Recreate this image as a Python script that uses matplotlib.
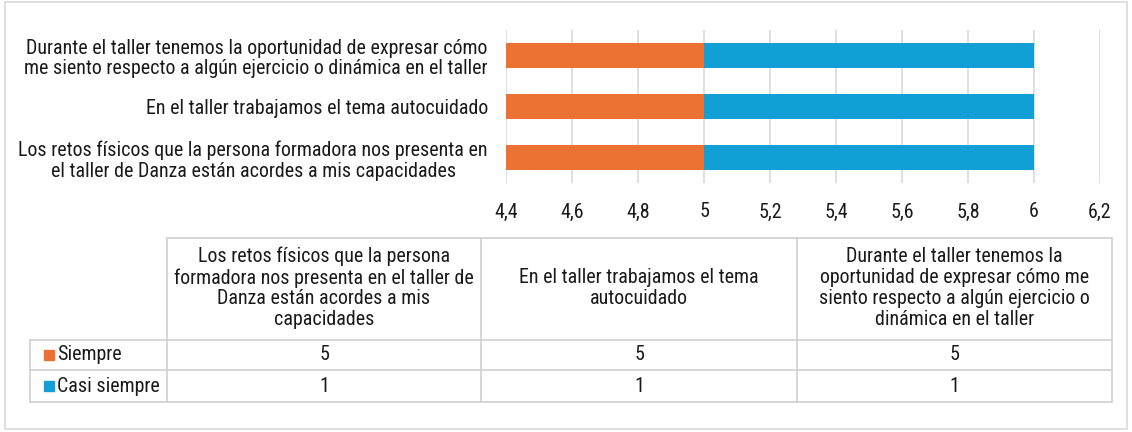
import matplotlib
matplotlib.use("Agg")
import matplotlib.pyplot as plt
from matplotlib.patches import Rectangle
from matplotlib import font_manager as fm

avail = set(f.name for f in fm.fontManager.ttflist)
fams = [f for f in ['Arial Narrow', 'Liberation Sans Narrow', 'Roboto Condensed', 'Archivo Narrow'] if f in avail]
plt.rcParams['font.family'] = fams + ['DejaVu Sans']

categories = [
    "Los retos físicos que la persona formadora nos presenta en\nel taller de Danza están acordes a mis capacidades",
    "En el taller trabajamos el tema autocuidado",
    "Durante el taller tenemos la oportunidad de expresar cómo\nme siento respecto a algún ejercicio o dinámica en el taller",
]
table_headers = [
    "Los retos físicos que la persona\nformadora nos presenta en el taller de\nDanza están acordes a mis\ncapacidades",
    "En el taller trabajamos el tema\nautocuidado",
    "Durante el taller tenemos la\noportunidad de expresar cómo me\nsiento respecto a algún ejercicio o\ndinámica en el taller",
]
series_names = ["Siempre", "Casi siempre"]
siempre = [5, 5, 5]
casi_siempre = [1, 1, 1]
xticks = [4.4, 4.6, 4.8, 5.0, 5.2, 5.4, 5.6, 5.8, 6.0, 6.2]
colors = ["#EB7233", "#119FD6"]

FS = 14.4
TC = "#1a1a1a"
W, H = 1132, 432
fig = plt.figure(figsize=(W / 100, H / 100), dpi=100)
fig.patch.set_facecolor("white")

bg = fig.add_axes([0, 0, 1, 1])
bg.set_xlim(0, W)
bg.set_ylim(H, 0)
bg.axis("off")
bg.add_patch(Rectangle((5, 2), W - 10, H - 5, fill=False, edgecolor="#D9D9D9", lw=1.2))

ax = fig.add_axes([506 / W, 1 - 183 / H, (1100 - 506) / W, (183 - 30) / H])
ypos = list(range(len(categories)))
ax.barh(ypos, siempre, height=0.5, color=colors[0], zorder=3)
ax.barh(ypos, casi_siempre, left=siempre, height=0.5, color=colors[1], zorder=3)
ax.set_xlim(4.4, 6.2)
ax.set_ylim(-0.5, 2.5)
ax.set_xticks(xticks)
ax.set_xticklabels([("%g" % v).replace(".", ",") for v in xticks], fontsize=FS, color=TC)
ax.set_yticks(ypos)
ax.set_yticklabels(categories, fontsize=FS, color=TC, ha="right", multialignment="center", linespacing=1.12)
ax.tick_params(axis="both", length=0)
ax.tick_params(axis="x", pad=14)
ax.tick_params(axis="y", pad=13)
ax.xaxis.grid(True, color="#D9D9D9", lw=1.2, zorder=0)
for s in ax.spines.values():
    s.set_visible(False)

tx = [167, 481, 797, 1112]
lx = 30
ty = [238, 340, 370, 402]
lc = "#D0D0D0"
bg.plot([tx[0], tx[-1]], [ty[0], ty[0]], color=lc, lw=1.2)
for y in ty[1:]:
    bg.plot([lx, tx[-1]], [y, y], color=lc, lw=1.2)
for x in tx:
    bg.plot([x, x], [ty[0], ty[-1]], color=lc, lw=1.2)
bg.plot([lx, lx], [ty[1], ty[-1]], color=lc, lw=1.2)

for i, h in enumerate(table_headers):
    bg.text((tx[i] + tx[i + 1]) / 2, (ty[0] + ty[1]) / 2 - 1, h, ha="center", va="center",
            fontsize=FS, color=TC, linespacing=1.12)
rows = [siempre, casi_siempre]
for r, vals in enumerate(rows):
    yc = (ty[r + 1] + ty[r + 2]) / 2
    bg.add_patch(Rectangle((44, yc - 5), 10, 10, color=colors[r]))
    bg.text(57, yc, series_names[r], ha="left", va="center", fontsize=FS, color=TC)
    for i, v in enumerate(vals):
        bg.text((tx[i] + tx[i + 1]) / 2, yc, str(v), ha="center", va="center",
                fontsize=FS, color=TC)

fig.savefig("out.png", dpi=100)
